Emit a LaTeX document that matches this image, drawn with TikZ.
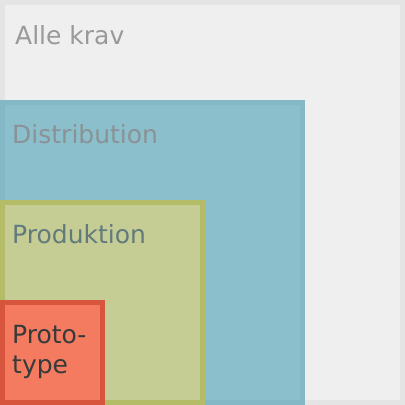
\documentclass[tikz,border=0pt]{standalone}
\usepackage{fontspec}
\setmainfont{DejaVu Sans}
\definecolor{grayborder}{HTML}{E4E4E4}
\definecolor{grayfill}{HTML}{EFEFEF}
\definecolor{blueborder}{HTML}{84B8C6}
\definecolor{bluefill}{HTML}{8BBFCC}
\definecolor{greenborder}{HTML}{B4BC68}
\definecolor{greenfill}{HTML}{C5CD95}
\definecolor{redborder}{HTML}{D7553C}
\definecolor{redfill}{HTML}{F47A60}
\definecolor{txtgray}{HTML}{999999}
\definecolor{txtblue}{HTML}{8A9295}
\definecolor{txtgreen}{HTML}{617A7C}
\definecolor{txtred}{HTML}{353A3A}
\begin{document}
\begin{tikzpicture}[x=1pt,y=-1pt,
  region/.style={draw, line width=5pt, anchor=north west, inner sep=0pt, outer sep=0pt},
  label/.style={anchor=base west, inner sep=0pt, font=\fontsize{25}{30}\selectfont, align=left}]
\useasboundingbox (0,0) rectangle (405,405);
\node[region, draw=grayborder, fill=grayfill, minimum width=400pt, minimum height=400pt] (alle) at (2.5,2.5) {};
\node[region, draw=blueborder, fill=bluefill, minimum width=300pt, minimum height=300pt] (dist) at (2.5,102.5) {};
\node[region, draw=greenborder, fill=greenfill, minimum width=200pt, minimum height=200pt] (prod) at (2.5,202.5) {};
\node[region, draw=redborder, fill=redfill, minimum width=100pt, minimum height=100pt] (proto) at (2.5,302.5) {};
\node[label, text=txtgray] (talle) at (15,44) {Alle krav};
\node[label, text=txtblue] (tdist) at (12,143) {Distribution};
\node[label, text=txtgreen] (tprod) at (12,243) {Produktion};
\node[label, text=txtred] (tproto1) at (12,343) {Proto-};
\node[label, text=txtred] (tproto2) at (12,373) {type};
\end{tikzpicture}
\end{document}
